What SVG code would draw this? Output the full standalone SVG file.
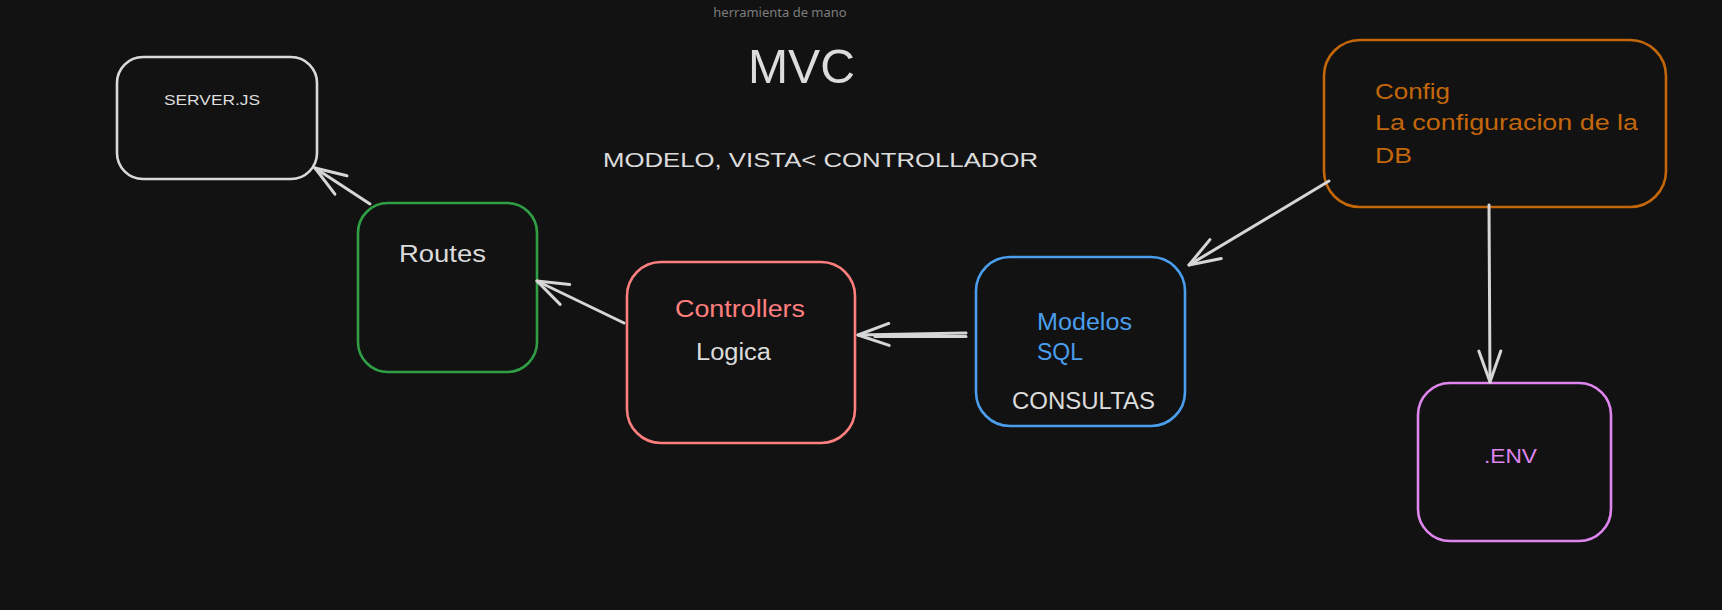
<svg xmlns="http://www.w3.org/2000/svg" width="1722" height="610" viewBox="0 0 1722 610">
  <style>
    .box { fill: #121212; stroke-width: 2.6; stroke-linejoin: round; }
    .hand { font-family: "Liberation Sans", Arial, sans-serif; }
    .conn { stroke: #d6d6d6; stroke-width: 3; fill: none; stroke-linecap: round; }
    .white { fill: #dcdcdc; }
  </style>
  <defs>
    <marker id="arrow" markerUnits="userSpaceOnUse" viewBox="-34 -16 38 32" markerWidth="38" markerHeight="32" refX="0" refY="0" orient="auto" overflow="visible">
      <path d="M -31 -11 L 0 0 L -31 11" fill="none" stroke="#d6d6d6" stroke-width="3" stroke-linecap="round" stroke-linejoin="round"/>
    </marker>
  </defs>
  <rect width="1722" height="610" fill="#121212"/>

  <text x="780" y="17" font-family="'Noto Sans', 'Open Sans', sans-serif" font-size="13" fill="#7d7d7d" text-anchor="middle">herramienta de mano</text>

  <g id="title">
    <text class="hand white" x="748" y="83" font-size="48" textLength="107" lengthAdjust="spacingAndGlyphs">MVC</text>
    <text class="hand white" x="603" y="167" font-size="21" textLength="435" lengthAdjust="spacingAndGlyphs">MODELO, VISTA&lt; CONTROLLADOR</text>
  </g>

  <g id="server">
    <rect class="box" x="117" y="57" width="200" height="122" rx="26" stroke="#d9d9d9"/>
    <text class="hand white" x="164" y="105" font-size="15" textLength="96" lengthAdjust="spacingAndGlyphs">SERVER.JS</text>
  </g>

  <g id="routes">
    <rect class="box" x="358" y="203" width="179" height="169" rx="30" stroke="#2f9e44"/>
    <text class="hand white" x="399" y="262" font-size="23" textLength="87" lengthAdjust="spacingAndGlyphs">Routes</text>
  </g>

  <g id="controllers">
    <rect class="box" x="627" y="262" width="228" height="181" rx="34" stroke="#ff7f7f"/>
    <text class="hand" x="675" y="317" font-size="23" fill="#ff7f7f" textLength="130" lengthAdjust="spacingAndGlyphs">Controllers</text>
    <text class="hand white" x="696" y="360" font-size="23" textLength="75" lengthAdjust="spacingAndGlyphs">Logica</text>
  </g>

  <g id="modelos">
    <rect class="box" x="976" y="257" width="209" height="169" rx="34" stroke="#4a9eed"/>
    <text class="hand" x="1037" y="330" font-size="23" fill="#4a9eed" textLength="95" lengthAdjust="spacingAndGlyphs">Modelos</text>
    <text class="hand" x="1037" y="360" font-size="23" fill="#4a9eed" textLength="46" lengthAdjust="spacingAndGlyphs">SQL</text>
    <text class="hand white" x="1012" y="409" font-size="23" textLength="143" lengthAdjust="spacingAndGlyphs">CONSULTAS</text>
  </g>

  <g id="config">
    <rect class="box" x="1324" y="40" width="342" height="167" rx="36" stroke="#c4670a"/>
    <text class="hand" x="1375" y="99" font-size="22" fill="#c4670a" textLength="75" lengthAdjust="spacingAndGlyphs">Config</text>
    <text class="hand" x="1375" y="130" font-size="22" fill="#c4670a" textLength="263" lengthAdjust="spacingAndGlyphs">La configuracion de la</text>
    <text class="hand" x="1375" y="163" font-size="22" fill="#c4670a" textLength="37" lengthAdjust="spacingAndGlyphs">DB</text>
  </g>

  <g id="env">
    <rect class="box" x="1418" y="383" width="193" height="158" rx="32" stroke="#df85ee"/>
    <text class="hand" x="1484" y="463" font-size="20" fill="#df85ee" textLength="53" lengthAdjust="spacingAndGlyphs">.ENV</text>
  </g>

  <g id="connectors">
    <path class="conn" d="M 370 204 L 315 168" marker-end="url(#arrow)"/>
    <path class="conn" d="M 624 323 L 537 281" marker-end="url(#arrow)"/>
    <path class="conn" d="M 966 333 L 858 335" marker-end="url(#arrow)"/>
    <path class="conn" d="M 966 336.5 L 875 336.5" stroke-width="2"/>
    <path class="conn" d="M 1329 181 L 1189 265" marker-end="url(#arrow)"/>
    <path class="conn" d="M 1489 205 L 1490 382" marker-end="url(#arrow)"/>
  </g>
</svg>
